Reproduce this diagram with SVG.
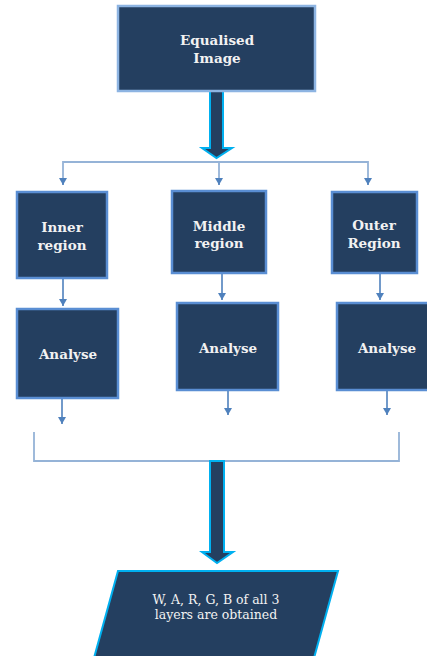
<svg xmlns="http://www.w3.org/2000/svg" width="427" height="656" viewBox="0 0 427 656">
<defs>
<style>
.box{fill:#243F60;stroke:#5A8ED3;stroke-width:2.5}
.top{fill:#243F60;stroke:#8DB4E2;stroke-width:2.5}
.big{fill:#243F60;stroke:#00B0F0;stroke-width:2}
.ln{fill:none;stroke:#4F81BD;stroke-width:1.6}
.br{fill:none;stroke:#95B3D7;stroke-width:1.8}
.t{font-family:"DejaVu Serif","Liberation Serif",serif;font-weight:bold;font-size:13.5px;fill:#F2F2F2;text-anchor:middle}
.s{font-family:"DejaVu Serif","Liberation Serif",serif;font-size:12.5px;fill:#F2F2F2;text-anchor:middle}
</style>
<marker id="ah" viewBox="0 0 7 8" refX="7" refY="4" markerWidth="7" markerHeight="8" markerUnits="userSpaceOnUse" orient="auto">
<path d="M0,0 L7,4 L0,8 Z" fill="#4F81BD"/>
</marker>
</defs>
<g id="connectors">
<path class="big" d="M210,91 L223,91 L223,148 L232,148 L216.5,158 L202,148 L210,148 Z"/>
<path class="br" d="M63,178 L63,162 L368,162 L368,178"/>
<line class="br" x1="219" y1="162" x2="219" y2="178"/>
<path class="ln" d="M63,178 L63,185" marker-end="url(#ah)"/>
<path class="ln" d="M219,178 L219,185" marker-end="url(#ah)"/>
<path class="ln" d="M368,178 L368,185" marker-end="url(#ah)"/>
<line class="ln" x1="63" y1="278" x2="63" y2="306" marker-end="url(#ah)"/>
<line class="ln" x1="222" y1="273" x2="222" y2="300" marker-end="url(#ah)"/>
<line class="ln" x1="380" y1="273" x2="380" y2="300" marker-end="url(#ah)"/>
<line class="ln" x1="62" y1="398" x2="62" y2="424" marker-end="url(#ah)"/>
<line class="ln" x1="228" y1="390" x2="228" y2="415" marker-end="url(#ah)"/>
<line class="ln" x1="387" y1="390" x2="387" y2="415" marker-end="url(#ah)"/>
<path class="br" d="M34,432 L34,461 L399,461 L399,432"/>
<path class="big" d="M210,461 L224,461 L224,552 L233,552 L217,563 L202,552 L210,552 Z"/>
</g>
<g id="equalised-image">
<rect class="top" x="118" y="6" width="197" height="85"/>
<text class="t" x="217" y="45">Equalised</text>
<text class="t" x="217" y="63">Image</text>
</g>
<g id="inner-region">
<rect class="box" x="17" y="192" width="90" height="86"/>
<text class="t" x="62" y="232">Inner</text>
<text class="t" x="62" y="250">region</text>
</g>
<g id="middle-region">
<rect class="box" x="172" y="191" width="94" height="82"/>
<text class="t" x="219" y="231">Middle</text>
<text class="t" x="219" y="248">region</text>
</g>
<g id="outer-region">
<rect class="box" x="332" y="192" width="85" height="81"/>
<text class="t" x="374" y="230">Outer</text>
<text class="t" x="374" y="248">Region</text>
</g>
<g id="analyse-inner">
<rect class="box" x="17" y="309" width="101" height="89"/>
<text class="t" x="68" y="359">Analyse</text>
</g>
<g id="analyse-middle">
<rect class="box" x="177" y="303" width="101" height="87"/>
<text class="t" x="228" y="353">Analyse</text>
</g>
<g id="analyse-outer">
<rect class="box" x="337" y="303" width="92" height="87"/>
<text class="t" x="387" y="353">Analyse</text>
</g>
<g id="output">
<path class="big" d="M118,571 L338,571 L314,658 L94,658 Z"/>
<text class="s" x="216" y="604">W, A, R, G, B of all 3</text>
<text class="s" x="216" y="619">layers are obtained</text>
</g>
</svg>
